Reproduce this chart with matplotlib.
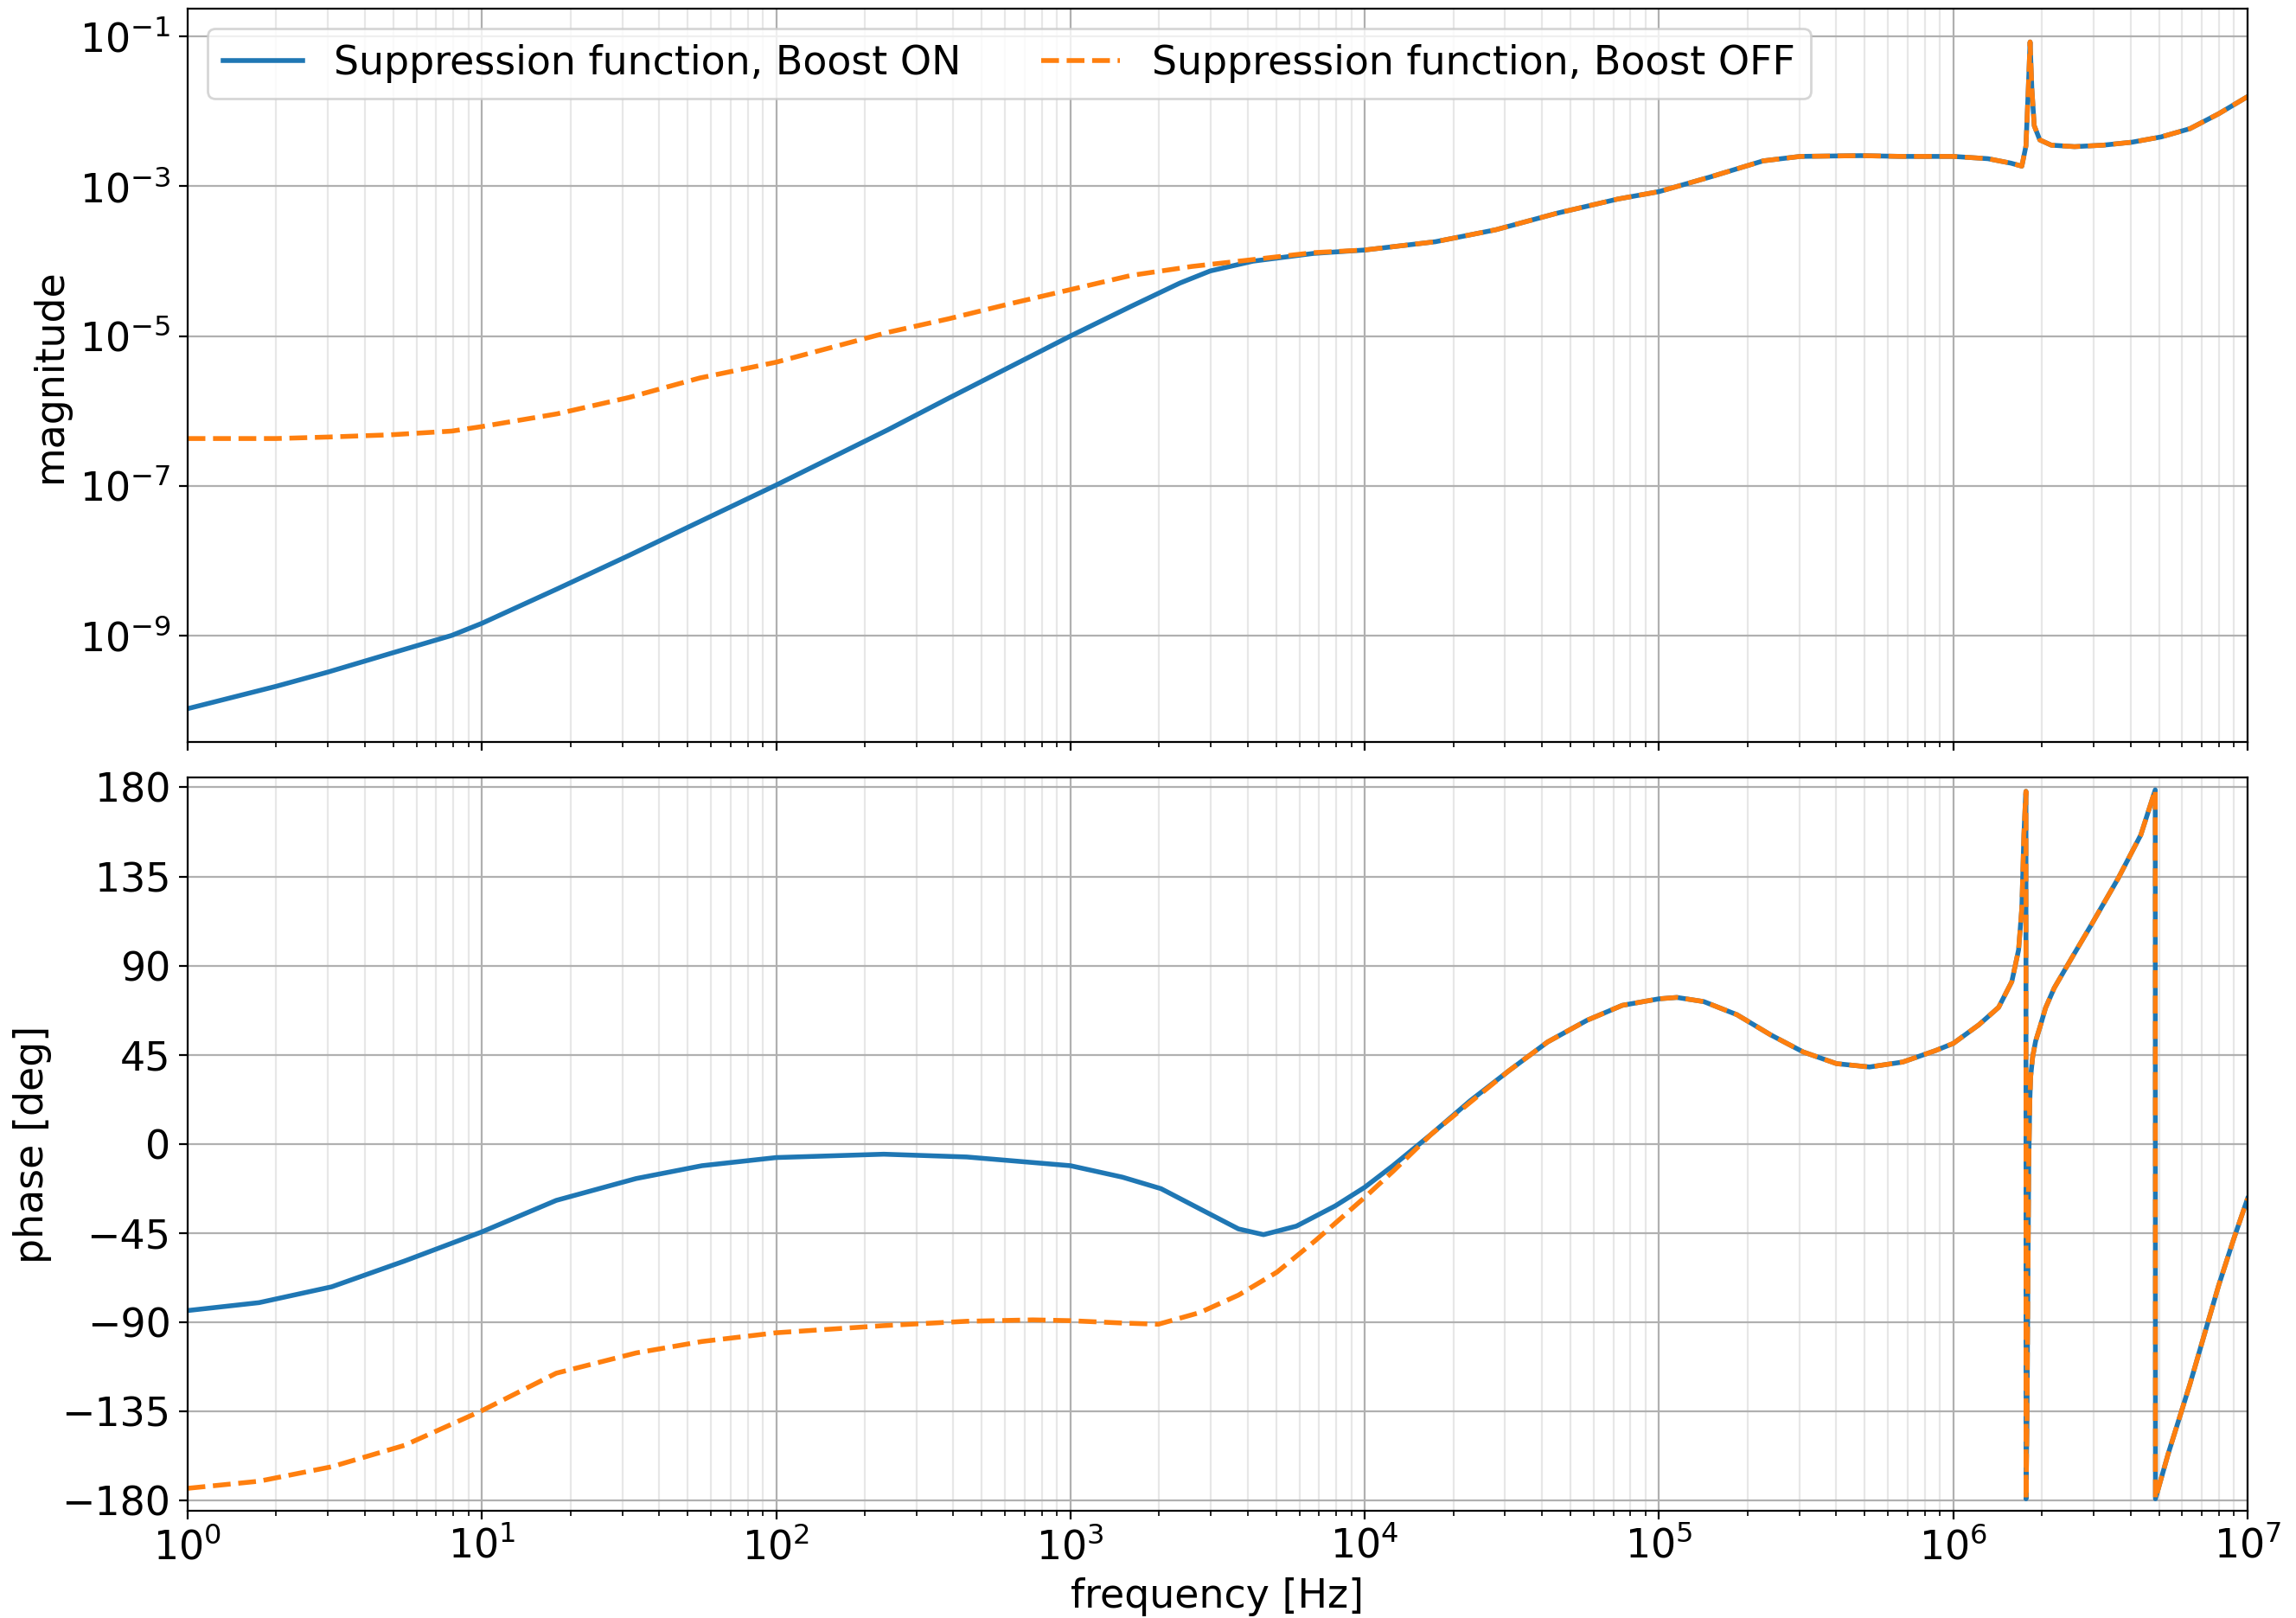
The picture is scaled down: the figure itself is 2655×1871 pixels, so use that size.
import matplotlib
matplotlib.use('Agg')
import matplotlib.pyplot as plt
import matplotlib.ticker as ticker

plt.rcParams['font.size'] = 16.5

# magnitude, boost ON
f_mag_on = [1, 2, 3, 4.9, 7.9, 10, 18, 31.6, 100, 240, 386, 1000, 1610, 2355, 2985,
            4170, 6700, 1e4, 17400, 27900, 45000, 72400, 1e5, 148000, 226000, 302000,
            485000, 667000, 1e6, 1.312e6, 1.570e6, 1.710e6, 1.766e6, 1.799e6, 1.824e6,
            1.849e6, 1.884e6, 1.968e6, 2.153e6, 2.582e6, 3.236e6, 4.055e6, 5.082e6,
            6.368e6, 7.980e6, 1e7]
mag_on = [1.05e-10, 2.09e-10, 3.24e-10, 5.75e-10, 1.0e-9, 1.45e-9, 4.17e-9, 1.17e-8,
          1.02e-7, 5.6e-7, 1.48e-6, 1.0e-5, 2.5e-5, 5.1e-5, 7.4e-5,
          1.0e-4, 1.27e-4, 1.41e-4, 1.82e-4, 2.63e-4, 4.37e-4, 6.76e-4, 8.5e-4, 1.32e-3,
          2.19e-3, 2.51e-3, 2.57e-3, 2.51e-3, 2.51e-3, 2.34e-3, 2.04e-3, 1.86e-3,
          3.47e-3, 2.04e-2, 8.5e-2, 2.04e-2, 6.46e-3, 4.17e-3, 3.55e-3, 3.39e-3,
          3.55e-3, 3.89e-3, 4.57e-3, 5.89e-3, 9.33e-3, 1.58e-2]

# magnitude, boost OFF below 10 kHz (above that it follows boost ON)
f_mag_off_low = [1, 2, 3, 4.9, 7.9, 10, 18, 31.6, 55, 100, 240, 386, 621, 1000, 1610,
                 2590, 4170, 6700]
mag_off_low = [4.27e-7, 4.27e-7, 4.47e-7, 4.79e-7, 5.37e-7, 6.17e-7, 9.12e-7, 1.51e-6,
               2.75e-6, 4.47e-6, 1.12e-5, 1.70e-5, 2.69e-5, 4.17e-5, 6.46e-5, 8.51e-5,
               1.05e-4, 1.30e-4]

# phase, boost ON
f_ph_on = [1, 1.75, 3.09, 5.46, 10, 17.9, 33.4, 56, 100, 232, 444, 1000, 1503, 2032,
           2754, 3724, 4530, 5860, 7940, 10000, 12470, 16870, 22800, 30900, 41800,
           57000, 75000, 100000, 115000, 142000, 184000, 239000, 309000, 401000,
           519000, 673000, 871000, 1.0e6, 1.222e6, 1.426e6, 1.581e6, 1.667e6, 1.710e6,
           1.738e6, 1.762e6, 1.766e6, 1.767e6, 1.780e6, 1.793e6, 1.805e6, 1.820e6,
           1.832e6, 1.861e6, 1.905e6, 1.968e6, 2.059e6, 2.203e6, 2.523e6, 2.955e6,
           3.623e6, 4.338e6, 4.857e6, 4.864e6, 5.375e6, 6.368e6, 7.127e6, 7.980e6,
           8.933e6, 1e7]
ph_on = [-84.0, -80, -72, -59, -44.3, -28.4, -17.4, -10.9, -6.8, -5.1, -6.5, -10.9,
         -16.7, -22.5, -32.7, -42.8, -45.7, -41.4, -31.2, -21.8, -10.9, 5.1, 21.8, 37.0,
         51.5, 62.5, 70.0, 73.3, 74.0, 71.9, 65.3, 55.2, 46.5, 40.6, 38.9, 41.4, 47.2,
         50.8, 60.2, 69, 82, 98, 119, 156, 176, 178, -179, -140, -70, -10, 22, 34, 44,
         52, 58.75, 68.75, 78.75, 93.75, 111, 133.75, 156, 178.75, -179, -156.25,
         -121.25, -96.25, -71.25, -48.75, -27.5]

# phase, boost OFF below ~30 kHz
f_ph_off_low = [1, 1.75, 3.09, 5.46, 10, 17.9, 33.4, 56, 100, 232, 444, 745, 1000, 1503,
                1990, 2754, 3724, 5035, 6810, 10000, 12470, 16870, 22800]
ph_off_low = [-173.7, -170.1, -162.8, -152, -134.5, -115.6, -105.4, -99.6, -95.2, -91.6,
              -89.4, -88.7, -89.1, -90.3, -90.9, -85, -76.2, -64.6, -48.6, -26.9, -13.8,
              5.1, 21.0]

# boost OFF = own low-frequency part + common high-frequency part
f_mag_off = f_mag_off_low + [f for f in f_mag_on if f >= 1e4]
mag_off = mag_off_low + [m for f, m in zip(f_mag_on, mag_on) if f >= 1e4]
f_ph_off = f_ph_off_low + [f for f in f_ph_on if f >= 30900]
ph_off = ph_off_low + [p for f, p in zip(f_ph_on, ph_on) if f >= 30900]

fig, (ax1, ax2) = plt.subplots(2, 1, sharex=True, figsize=(13.275, 9.355), dpi=200)
ax1.set_position([0.0817, 0.5414, 0.8972, 0.4533])
ax2.set_position([0.0817, 0.0663, 0.8972, 0.4532])

ax1.loglog(f_mag_on, mag_on, color='C0', lw=2, label='Suppression function, Boost ON')
ax1.loglog(f_mag_off, mag_off, color='C1', lw=2, ls='--',
           label='Suppression function, Boost OFF')
ax1.set_ylabel('magnitude')
ax1.yaxis.set_minor_locator(ticker.NullLocator())
ax1.grid(True, which='major')
ax1.grid(True, which='minor', axis='x', alpha=0.3)
ax1.legend(loc='upper left', ncol=2)
ax1.tick_params(labelbottom=False)

ax2.semilogx(f_ph_on, ph_on, color='C0', lw=2)
ax2.semilogx(f_ph_off, ph_off, color='C1', lw=2, ls='--')
ax2.set_ylabel('phase [deg]')
ax2.set_xlabel('frequency [Hz]')
ax2.set_yticks([-180, -135, -90, -45, 0, 45, 90, 135, 180])
ax2.set_ylim(-185, 185)
ax2.set_xlim(1, 1e7)
ax2.grid(True, which='major')
ax2.grid(True, which='minor', axis='x', alpha=0.3)

fig.savefig('out.png', dpi=200)
